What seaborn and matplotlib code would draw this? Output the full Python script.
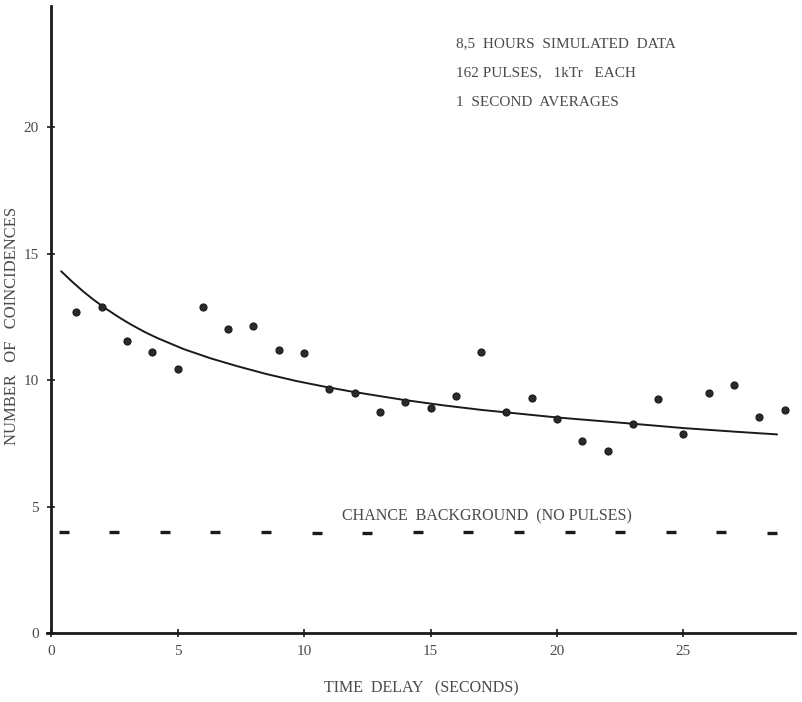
import numpy as np
import pandas as pd
import matplotlib
matplotlib.use("Agg")
import matplotlib.pyplot as plt
import seaborn as sns

# coincidences per time delay
delay_s = list(range(1, 30))
coincidences = [12.7, 12.9, 11.55, 11.1, 10.45, 12.9, 12.0, 12.15, 11.2, 11.05,
                9.65, 9.5, 8.75, 9.15, 8.9, 9.35, 11.1, 8.75, 9.3, 8.45,
                7.6, 7.2, 8.25, 9.25, 7.85, 9.5, 9.8, 8.55, 8.8]

# fitted curve, sampled from the drawn line
fit_x = [0.4, 0.8, 1.25, 1.7, 2.2, 2.7, 3.15, 3.7, 4.2, 5.25, 6.3, 7.35, 8.5,
         9.7, 10.8, 11.9, 13.9, 15.5, 17.0, 19.2, 20.0, 22.9, 25.0, 27.0, 28.7]
fit_y = [14.3, 13.92, 13.52, 13.16, 12.8, 12.47, 12.2, 11.9, 11.66, 11.22, 10.86, 10.55, 10.24,
         9.96, 9.74, 9.54, 9.22, 9.0, 8.82, 8.6, 8.52, 8.28, 8.1, 7.96, 7.85]

# chance background (no pulses)
bg_x = [0.5, 2.5, 4.5, 6.5, 8.5, 10.5, 12.5, 14.5, 16.5, 18.5, 20.5, 22.5, 24.5, 26.5, 28.5]
bg_y = [4.0, 4.0, 4.0, 4.0, 4.0, 3.95, 3.95, 4.0, 4.0, 4.0, 4.0, 4.0, 4.0, 4.0, 3.95]

x_ticks = [0, 5, 10, 15, 20, 25]
y_ticks = [0, 5, 10, 15, 20]

notes = ["8,5  HOURS  SIMULATED  DATA",
         "162 PULSES,   1kTr   EACH",
         "1  SECOND  AVERAGES"]

sns.set_style("ticks")
plt.rcParams["font.family"] = ["Liberation Serif", "DejaVu Serif"]

ink = "#1a1a1a"
txt = "#4a4a4a"

fig = plt.figure(figsize=(8.03, 7.02), dpi=100)
ax = fig.add_axes([0.0588, 0.0983, 0.931, 0.8937])

pts = pd.DataFrame({"delay": delay_s, "count": coincidences})
fit = pd.DataFrame({"delay": fit_x, "count": fit_y})
bg = pd.DataFrame({"delay": bg_x, "count": bg_y})

sns.lineplot(data=fit, x="delay", y="count", color=ink, linewidth=1.4, ax=ax)
sns.scatterplot(data=pts, x="delay", y="count", color="#2a2a2a", edgecolor=ink,
                s=26, linewidth=0.8, ax=ax, zorder=3)
sns.scatterplot(data=bg, x="delay", y="count", marker="_", color=ink,
                s=45, linewidth=2.4, ax=ax)

ax.set_xlim(-0.15, 29.4)
ax.set_ylim(0, 24.8)
ax.set_xticks(x_ticks)
ax.set_yticks(y_ticks)
ax.tick_params(axis="both", labelsize=11, labelcolor=txt, color=ink,
               direction="inout", length=6, width=1.2, pad=6)

sns.despine(ax=ax)
ax.spines["left"].set_position(("data", 0))
for side in ["left", "bottom"]:
    ax.spines[side].set_linewidth(2.0)
    ax.spines[side].set_color(ink)

ax.set_xlabel("TIME  DELAY   (SECONDS)", fontsize=11.5, color=txt, labelpad=16)
ax.set_ylabel("NUMBER   OF   COINCIDENCES", fontsize=12, color=txt)
ax.yaxis.set_label_coords(-0.036, 0.49)

for i, line in enumerate(notes):
    ax.text(16.0, 23.28 - i * 1.15, line, fontsize=11, color=txt, va="center")

ax.text(11.5, 4.62, "CHANCE  BACKGROUND  (NO PULSES)", fontsize=11.5,
        color=txt, va="center")

fig.savefig("out.png", dpi=100)
